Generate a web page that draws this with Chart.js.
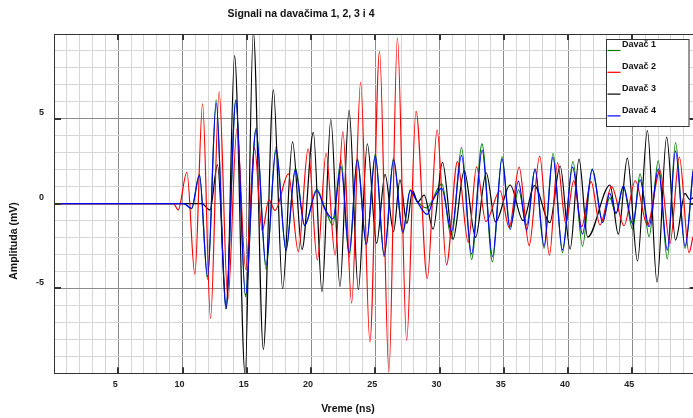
<!DOCTYPE html>
<html>
<head>
<meta charset="utf-8">
<script src="https://cdn.jsdelivr.net/npm/chart.js@4.4.1/dist/chart.umd.min.js"></script>
<style>
  html, body { margin: 0; padding: 0; background: #fff; }
</style>
</head>
<body>
<canvas id="chart" width="693" height="418"></canvas>
<script>
// [vreme (ns), amplituda (mV)] - vrhovi i doline ocitani sa slike
const davac1 = [[0,0],[10.1,0],[10.7,-0.3],[11.32,1.72],[11.95,-4.47],[12.62,6.12],[13.37,-6.2],[14.15,6.12],[14.9,-5.49],[15.72,4.45],[16.5,-3.88],[17.28,3.37],[18.05,-2.78],[18.78,2.09],[19.5,-1.26],[20.45,0.85],[21.1,-0.3],[21.7,-1.26],[22.33,2.58],[22.97,-3.13],[23.6,2.68],[24.3,-2.44],[25.0,2.93],[25.69,-3.13],[26.42,2.68],[27.14,-1.75],[27.72,0.81],[28.25,0.15],[29.0,-0.25],[30.18,1.16],[30.93,-2.05],[31.71,3.3],[32.49,-3.29],[33.3,3.52],[34.12,-3.43],[34.86,2.78],[35.49,-1.36],[36.15,0.81],[36.78,-1.26],[37.43,2.03],[38.13,-2.64],[38.83,2.97],[39.56,-2.89],[40.38,2.48],[41.12,-2.5],[41.88,2.05],[42.69,-1.0],[43.24,0.35],[43.73,-0.57],[44.3,1.0],[45.03,-1.52],[45.6,1.75],[46.3,-1.95],[47.02,2.52],[47.72,-3.25],[48.36,3.6],[49.1,-2.64],[49.72,2.0]];

const davac2 = [[0,0],[9.3,0],[9.66,-0.37],[10.34,1.85],[10.96,-4.15],[11.56,5.89],[12.18,-6.77],[12.85,6.61],[13.53,-5.65],[14.23,4.39],[14.92,-3.88],[15.6,3.3],[16.2,-1.6],[16.72,0.22],[17.2,-0.4],[18.24,1.75],[19.01,-2.83],[19.77,3.23],[20.49,-3.33],[21.17,2.97],[21.87,-3.03],[22.48,4.25],[23.16,-5.85],[23.86,7.15],[24.58,-8.15],[25.33,8.97],[26.06,-9.92],[26.72,9.76],[27.44,-8.05],[28.17,5.45],[29.04,-4.41],[29.81,4.35],[30.54,-3.6],[31.39,2.48],[32.23,-2.28],[32.88,2.17],[33.6,-1.06],[34.7,0.76],[35.42,-1.4],[36.19,2.15],[36.97,-2.47],[37.79,2.8],[38.55,-3.03],[39.18,2.4],[39.82,-1.16],[40.44,1.34],[41.06,-1.36],[41.79,1.3],[42.48,-1.25],[43.39,1.0],[44.35,-1.3],[45.23,1.35],[46.17,-1.26],[47.15,1.95],[47.93,-2.34],[48.66,2.75],[49.41,-2.89],[49.72,-1.95]];

const davac3 = [[0,0],[11.5,0],[12.14,-0.37],[12.72,2.28],[13.42,-6.18],[14.05,8.72],[14.87,-10.1],[15.51,10.1],[16.29,-8.6],[17.07,6.71],[17.79,-5.0],[18.56,3.64],[19.3,-2.7],[20.18,4.21],[20.85,-5.18],[21.54,4.96],[22.25,-4.88],[22.96,5.5],[23.68,-5.06],[24.38,3.53],[25.1,-2.34],[25.76,1.72],[26.42,-1.65],[26.92,1.4],[27.46,-1.16],[27.9,0.77],[28.3,0.1],[28.8,0.5],[29.5,-1.5],[30.23,2.43],[31.05,-2.1],[31.92,1.95],[32.8,-1.99],[33.63,1.82],[34.35,-1.08],[35.49,1.1],[36.5,-1.0],[37.38,1.06],[38.58,-1.12],[39.38,2.22],[40.16,-2.68],[40.85,2.62],[41.52,-1.97],[43.26,1.1],[43.91,-1.8],[44.61,2.68],[45.4,-3.38],[46.17,4.31],[46.92,-4.62],[47.67,3.92],[48.36,-2.15],[49.1,0.61],[49.45,0.25],[49.72,0.35]];

const davac4 = [[0,0],[10.1,0],[10.7,-0.28],[11.32,1.65],[11.95,-4.31],[12.62,5.93],[13.37,-6.18],[14.15,6.08],[14.9,-5.39],[15.72,4.35],[16.5,-3.62],[17.28,3.17],[18.05,-2.74],[18.78,1.99],[19.5,-1.3],[20.45,0.76],[21.1,-0.35],[21.7,-0.9],[22.33,2.2],[22.97,-2.9],[23.6,2.58],[24.3,-2.4],[25.0,2.8],[25.69,-3.03],[26.42,2.56],[27.14,-1.67],[27.72,0.77],[28.25,0.12],[29.04,-0.63],[29.55,0.3],[30.17,0.9],[30.93,-1.65],[31.71,2.85],[32.49,-2.97],[33.31,3.14],[34.12,-3.13],[34.86,2.64],[35.49,-1.52],[36.13,1.33],[36.78,-1.56],[37.43,2.04],[38.13,-2.5],[38.82,2.74],[39.56,-2.74],[40.35,2.15],[41.12,-1.79],[41.88,2.0],[42.69,-1.12],[43.24,0.6],[43.73,-0.57],[44.3,1.05],[45.03,-1.2],[45.6,1.4],[46.3,-1.36],[47.02,2.05],[47.72,-2.74],[48.36,3.1],[49.1,-2.5],[49.72,1.9]];

const seriesNames = ['Davač 1', 'Davač 2', 'Davač 3', 'Davač 4'];
const seriesColors = ['#008000', '#ff0000', '#000000', '#0000ff'];
const xMajorTicks = [5, 10, 15, 20, 25, 30, 35, 40, 45];
const yMajorTicks = [-5, 0, 5];

const FONT = 'Liberation Sans, Arial, sans-serif';

function toPoints(arr) {
  return arr.map(p => ({ x: p[0], y: p[1] }));
}

function gridColor(ctx) {
  const v = ctx.tick ? ctx.tick.value : 0;
  if (v % 5 === 0) return '#8c8c8c';
  return '#d6d6d6';
}

// okvir, kratke crtice, legenda i naslovi
const framePlugin = {
  id: 'frame',
  afterDraw(chart) {
    const ctx = chart.ctx;
    const a = chart.chartArea;
    const xs = chart.scales.x;
    const ys = chart.scales.y;
    ctx.save();

    // gornja ivica
    ctx.strokeStyle = '#333';
    ctx.lineWidth = 1;
    ctx.beginPath();
    ctx.moveTo(a.left, a.top + 0.5);
    ctx.lineTo(a.right, a.top + 0.5);
    ctx.stroke();

    // crtice
    ctx.lineWidth = 2;
    ctx.strokeStyle = '#333';
    xMajorTicks.forEach(t => {
      const px = Math.round(xs.getPixelForValue(t));
      ctx.beginPath();
      ctx.moveTo(px, a.top);
      ctx.lineTo(px, a.top + 6);
      ctx.moveTo(px, a.bottom);
      ctx.lineTo(px, a.bottom - 6);
      ctx.stroke();
    });
    const rightEdge = xs.getPixelForValue(50);
    yMajorTicks.forEach(v => {
      const py = Math.round(ys.getPixelForValue(v));
      ctx.beginPath();
      ctx.moveTo(a.left, py);
      ctx.lineTo(a.left + 7, py);
      ctx.moveTo(rightEdge, py);
      ctx.lineTo(rightEdge - 7, py);
      ctx.stroke();
    });

    // legenda
    ctx.fillStyle = '#fff';
    ctx.fillRect(606.5, 39.5, 82.5, 87);
    ctx.lineWidth = 1;
    ctx.strokeStyle = '#333';
    ctx.strokeRect(606.5, 39.5, 82.5, 87);
    ctx.font = 'bold 9px ' + FONT;
    ctx.textBaseline = 'middle';
    ctx.textAlign = 'left';
    seriesNames.forEach((name, i) => {
      const yLine = 50.5 + i * 21.8;
      ctx.strokeStyle = seriesColors[i];
      ctx.lineWidth = 1.2;
      ctx.beginPath();
      ctx.moveTo(607.5, yLine);
      ctx.lineTo(620.5, yLine);
      ctx.stroke();
      ctx.fillStyle = '#111';
      ctx.fillText(name, 622, 45 + i * 21.8);
    });

    // naslovi
    ctx.fillStyle = '#111';
    ctx.textAlign = 'center';
    ctx.font = 'bold 10.5px ' + FONT;
    ctx.fillText('Signali na davačima 1, 2, 3 i 4', 301, 14.5);
    ctx.fillText('Vreme (ns)', 348, 409);
    ctx.translate(14, 241);
    ctx.rotate(-Math.PI / 2);
    ctx.fillText('Amplituda (mV)', 0, 0);
    ctx.restore();
  }
};

const datasets = [davac1, davac2, davac3, davac4].map((d, i) => ({
  label: seriesNames[i],
  data: toPoints(d),
  borderColor: seriesColors[i],
  borderWidth: 1.2,
  pointRadius: 0,
  fill: false,
  cubicInterpolationMode: 'monotone',
  order: [4, 2, 3, 1][i]
}));

new Chart(document.getElementById('chart'), {
  type: 'line',
  data: { datasets: datasets },
  options: {
    responsive: false,
    animation: false,
    devicePixelRatio: 1,
    layout: { padding: { top: 34, left: 0, right: 0, bottom: 0 } },
    plugins: {
      legend: { display: false },
      tooltip: { enabled: false },
      title: { display: false }
    },
    scales: {
      x: {
        type: 'linear',
        min: 0,
        max: 49.72,
        afterFit(scale) { scale.height = 44.7; },
        grid: { color: gridColor, lineWidth: 1, drawTicks: false },
        border: { display: true, color: '#333', width: 1 },
        ticks: {
          stepSize: 1,
          includeBounds: false,
          autoSkip: false,
          maxRotation: 0,
          padding: 6,
          labelOffset: -3,
          color: '#222',
          font: { family: FONT, size: 9, weight: 'bold' },
          callback: v => (v % 5 === 0 && v > 0) ? String(v) : ''
        }
      },
      y: {
        type: 'linear',
        min: -10,
        max: 10,
        afterFit(scale) { scale.width = 54; },
        grid: { color: gridColor, lineWidth: 1, drawTicks: false },
        border: { display: true, color: '#333', width: 1 },
        ticks: {
          stepSize: 1,
          autoSkip: false,
          padding: 10,
          labelOffset: -6,
          color: '#222',
          font: { family: FONT, size: 9, weight: 'bold' },
          callback: v => (v % 5 === 0 && Math.abs(v) < 10) ? String(v) : ''
        }
      }
    }
  },
  plugins: [framePlugin]
});
</script>
</body>
</html>
